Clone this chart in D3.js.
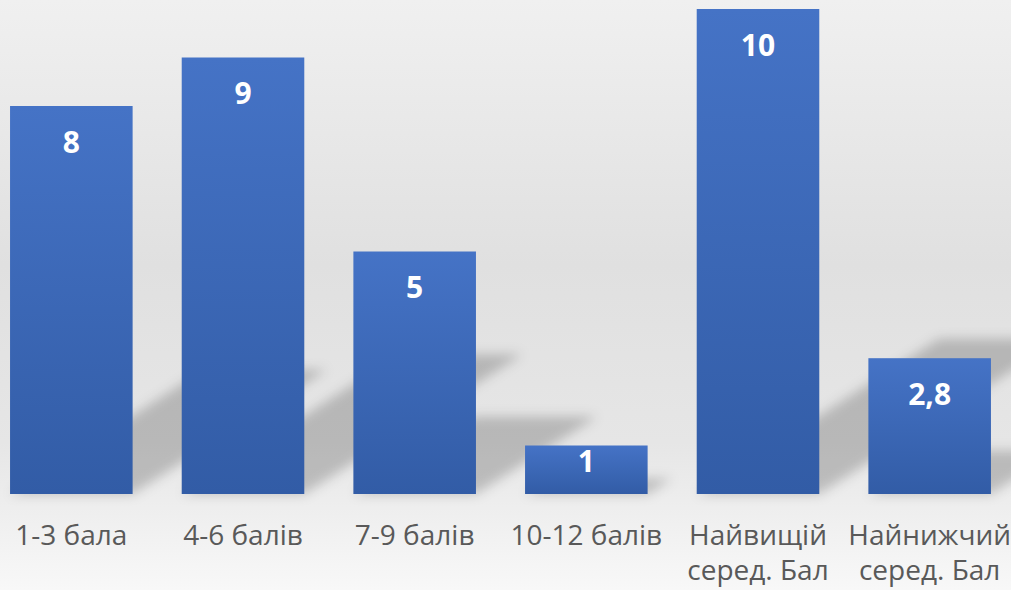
<html>
<head>
  <meta charset="utf-8">
  <script src="https://d3js.org/d3.v7.min.js"></script>
  <style>
    body { margin: 0; }
  </style>
</head>
<body>
<script>
  var categories = [["1-3 бала"], ["4-6 балів"], ["7-9 балів"], ["10-12 балів"], ["Найвищій", "серед. Бал"], ["Найнижчий", "серед. Бал"]];
  var values = [8, 9, 5, 1, 10, 2.8];
  var valueLabels = ["8", "9", "5", "1", "10", "2,8"];

  var width = 1011, height = 590;
  var baseY = 494;

  var svg = d3.select('body').append('svg')
      .attr('width', width)
      .attr('height', height);

  var defs = svg.append('defs');

  var bg = defs.append('linearGradient').attr('id', 'bg')
      .attr('x1', 0).attr('y1', 0).attr('x2', 0).attr('y2', 1);
  bg.append('stop').attr('offset', '0%').attr('stop-color', '#f0f0f0');
  bg.append('stop').attr('offset', '45%').attr('stop-color', '#e0e0e0');
  bg.append('stop').attr('offset', '75%').attr('stop-color', '#e6e6e6');
  bg.append('stop').attr('offset', '100%').attr('stop-color', '#f8f8f8');

  var barGrad = defs.append('linearGradient').attr('id', 'barGrad')
      .attr('x1', 0).attr('y1', 0).attr('x2', 0).attr('y2', 1);
  barGrad.append('stop').attr('offset', '0%').attr('stop-color', '#4573c6');
  barGrad.append('stop').attr('offset', '100%').attr('stop-color', '#325ca6');

  var blur = defs.append('filter').attr('id', 'blur')
      .attr('x', '-20%').attr('y', '-20%').attr('width', '140%').attr('height', '140%');
  blur.append('feGaussianBlur').attr('stdDeviation', 6);

  svg.append('rect').attr('width', width).attr('height', height).attr('fill', 'url(#bg)');

  var x = d3.scaleBand()
      .domain(d3.range(values.length))
      .range([-14.5, 1015.5])
      .paddingInner(0.286)
      .paddingOuter(0.143);

  var y = d3.scaleLinear().domain([0, 10]).range([baseY, 9]);

  // perspective shadows
  svg.append('g').attr('filter', 'url(#blur)')
    .selectAll('path')
    .data(values)
    .enter()
    .append('path')
    .attr('fill', '#000')
    .attr('fill-opacity', 0.2)
    .attr('d', function(d, i) {
      var h = baseY - y(d);
      var x0 = x(i), x1 = x(i) + x.bandwidth();
      var dx = h * 0.5, dy = h * 0.32;
      return 'M' + x0 + ',' + baseY + 'L' + x1 + ',' + baseY +
             'L' + (x1 + dx) + ',' + (baseY - dy) + 'L' + (x0 + dx) + ',' + (baseY - dy) + 'Z';
    });

  svg.append('g').selectAll('rect')
    .data(values)
    .enter()
    .append('rect')
    .attr('x', (d, i) => x(i))
    .attr('y', d => y(d))
    .attr('width', x.bandwidth())
    .attr('height', d => baseY - y(d))
    .attr('fill', 'url(#barGrad)');

  svg.append('g').selectAll('text')
    .data(values)
    .enter()
    .append('text')
    .attr('x', (d, i) => x(i) + x.bandwidth() / 2)
    .attr('y', d => y(d) + Math.min(36, (baseY - y(d)) / 3))
    .attr('dy', '0.36em')
    .attr('text-anchor', 'middle')
    .attr('font-family', 'Open Sans, sans-serif')
    .attr('font-weight', 'bold')
    .attr('font-size', 30)
    .attr('fill', '#fff')
    .text((d, i) => valueLabels[i]);

  var cat = svg.append('g').selectAll('text')
    .data(categories)
    .enter()
    .append('text')
    .attr('x', (d, i) => x(i) + x.bandwidth() / 2)
    .attr('y', 545)
    .attr('text-anchor', 'middle')
    .attr('font-family', 'Open Sans, sans-serif')
    .attr('font-size', 28)
    .attr('fill', '#595959');

  cat.selectAll('tspan')
    .data(d => d)
    .enter()
    .append('tspan')
    .attr('x', function() { return d3.select(this.parentNode).attr('x'); })
    .attr('dy', (d, j) => j === 0 ? 0 : 35)
    .text(d => d);
</script>
</body>
</html>
